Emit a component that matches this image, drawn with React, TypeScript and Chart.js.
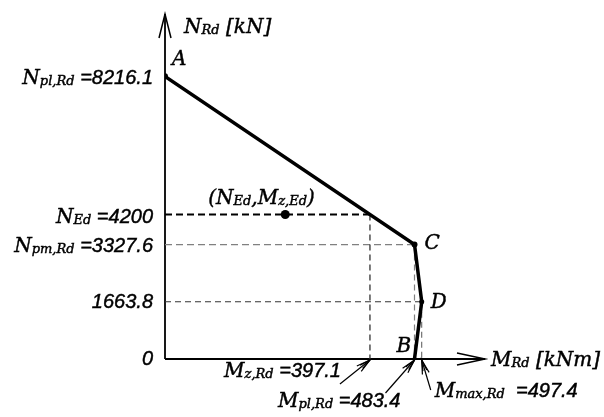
import React, { useEffect, useRef } from "react";
import { Chart, registerables } from "chart.js";

Chart.register(...registerables);

// ---- data ----
const envelopeM = [0, 483.4, 497.4, 483.4];
const envelopeN = [8216.1, 3327.6, 1663.8, 0];
const envelopeLabels = ["A", "C", "D", "B"];
const envelopeDot = [3, 3, 2.5, 0];
const N_Ed = 4200;
const M_Ed = 233;
const M_zRd = 397.1;
const M_plRd = 483.4;
const M_maxRd = 497.4;
const N_pmRd = 3327.6;
const N_half = 1663.8;
const N_plRd = 8216.1;
const M_AXIS_MAX = 620;
const N_AXIS_MAX = 10000;

type Seg = [string, "L" | "s" | "n"];

const FONTS: Record<string, string> = {
  L: 'italic 20px "DejaVu Serif"',
  s: 'italic 13px "DejaVu Serif"',
  n: 'italic 20px "Liberation Sans"',
};

function measureRich(ctx: CanvasRenderingContext2D, segs: Seg[]) {
  let w = 0;
  for (const [t, k] of segs) {
    ctx.font = FONTS[k];
    w += ctx.measureText(t).width;
  }
  return w;
}

function drawRich(
  ctx: CanvasRenderingContext2D,
  segs: Seg[],
  x: number,
  y: number,
  align: "left" | "right" = "left"
) {
  ctx.save();
  ctx.textBaseline = "alphabetic";
  ctx.textAlign = "left";
  ctx.fillStyle = "#000";
  ctx.strokeStyle = "#000";
  ctx.lineWidth = 0.45;
  let cx = align === "right" ? x - measureRich(ctx, segs) : x;
  for (const [t, k] of segs) {
    ctx.font = FONTS[k];
    const yy = k === "s" ? y + 1 : y;
    ctx.fillText(t, cx, yy);
    ctx.strokeText(t, cx, yy);
    cx += ctx.measureText(t).width;
  }
  ctx.restore();
}

function openArrow(
  ctx: CanvasRenderingContext2D,
  tx: number,
  ty: number,
  fx: number,
  fy: number,
  len: number,
  half: number
) {
  const ang = Math.atan2(fy - ty, fx - tx);
  const cos = Math.cos(ang), sin = Math.sin(ang);
  ctx.beginPath();
  ctx.moveTo(tx + cos * len - sin * half, ty + sin * len + cos * half);
  ctx.lineTo(tx, ty);
  ctx.lineTo(tx + cos * len + sin * half, ty + sin * len - cos * half);
  ctx.stroke();
}

const annotPlugin = {
  id: "annot",
  beforeDatasetsDraw(chart: any) {
    const ctx: CanvasRenderingContext2D = chart.ctx;
    const xs = chart.scales.x, ys = chart.scales.y;
    const x0 = xs.getPixelForValue(0);
    const y0 = ys.getPixelForValue(0);
    const yTop = ys.getPixelForValue(N_AXIS_MAX) - 1;
    const xEnd = xs.getPixelForValue(M_AXIS_MAX);
    ctx.save();
    ctx.strokeStyle = "#000";
    ctx.lineWidth = 1.8;
    ctx.beginPath();
    ctx.moveTo(x0, y0);
    ctx.lineTo(x0, yTop);
    ctx.moveTo(x0, y0);
    ctx.lineTo(xEnd, y0);
    ctx.stroke();
    ctx.lineWidth = 1.5;
    openArrow(ctx, x0, yTop, x0, yTop + 10, 24, 6);
    openArrow(ctx, xEnd, y0, xEnd - 10, y0, 28, 6);
    ctx.restore();
  },
  afterDatasetsDraw(chart: any) {
    const ctx: CanvasRenderingContext2D = chart.ctx;
    const xs = chart.scales.x, ys = chart.scales.y;
    const x0 = xs.getPixelForValue(0);
    const y0 = ys.getPixelForValue(0);
    const lx = x0 - 12;
    // y labels
    drawRich(ctx, [["N", "L"], ["pl,Rd", "s"], [" =8216.1", "n"]], lx, ys.getPixelForValue(N_plRd) + 8, "right");
    drawRich(ctx, [["N", "L"], ["Ed", "s"], [" =4200", "n"]], lx, ys.getPixelForValue(N_Ed) + 8, "right");
    drawRich(ctx, [["N", "L"], ["pm,Rd", "s"], [" =3327.6", "n"]], lx, ys.getPixelForValue(N_pmRd) + 7, "right");
    drawRich(ctx, [["1663.8", "n"]], lx, ys.getPixelForValue(N_half) + 6, "right");
    drawRich(ctx, [["0", "n"]], lx, y0 + 6, "right");
    // axis titles
    drawRich(ctx, [["N", "L"], ["Rd", "s"], [" [kN]", "L"]], x0 + 19, ys.getPixelForValue(N_AXIS_MAX) + 18);
    drawRich(ctx, [["M", "L"], ["Rd", "s"], [" [kNm]", "L"]], xs.getPixelForValue(M_AXIS_MAX) + 6, y0 + 7);
    // point labels
    const offs = [[7, -11], [10, 4], [9, 6], [-18, -7]];
    envelopeLabels.forEach((lab, i) => {
      const px = xs.getPixelForValue(envelopeM[i]);
      const py = ys.getPixelForValue(envelopeN[i]);
      drawRich(ctx, [[lab, "L"]], px + offs[i][0], py + offs[i][1]);
    });
    // design point label
    const ex = xs.getPixelForValue(M_Ed), ey = ys.getPixelForValue(N_Ed);
    drawRich(ctx, [["(N", "L"], ["Ed", "s"], [",M", "L"], ["z,Ed", "s"], [")", "L"]], ex - 77, ey - 11);
    // bottom labels with leaders
    const leaders: [number, number, number, Seg[], number, number, "left" | "right"][] = [
      [M_zRd, -30, 24, [["M", "L"], ["z,Rd", "s"], [" =397.1", "n"]], -29, 18, "right"],
      [M_plRd, -29, 33, [["M", "L"], ["pl,Rd", "s"], [" =483.4", "n"]], -14, 48, "right"],
      [M_maxRd, 9, 30, [["M", "L"], ["max,Rd", "s"], ["  =497.4", "n"]], 13, 38, "left"],
    ];
    ctx.save();
    ctx.strokeStyle = "#000";
    ctx.lineWidth = 1.2;
    for (const [m, dx, dy, segs, tx, ty, al] of leaders) {
      const px = xs.getPixelForValue(m);
      const tipY = y0 + 1;
      ctx.beginPath();
      ctx.moveTo(px, tipY);
      ctx.lineTo(px + dx, tipY + dy);
      ctx.stroke();
      openArrow(ctx, px, tipY, px + dx, tipY + dy, 14, 3.5);
      openArrow(ctx, px, tipY, px + dx, tipY + dy, 11, 2);
      drawRich(ctx, segs, px + tx, y0 + ty, al);
    }
    ctx.restore();
  },
};

const pts = (ms: number[], ns: number[]) => ms.map((m, i) => ({ x: m, y: ns[i] }));

export default function App() {
  const ref = useRef<HTMLCanvasElement | null>(null);
  useEffect(() => {
    if (!ref.current) return;
    const dashed = (ms: number[], ns: number[], color: string, w: number, dash: number[]) => ({
      data: pts(ms, ns),
      showLine: true,
      borderColor: color,
      borderWidth: w,
      borderDash: dash,
      pointRadius: 0,
      order: 2,
    });
    const chart = new Chart(ref.current, {
      type: "scatter",
      data: {
        datasets: [
          {
            data: pts(envelopeM, envelopeN),
            showLine: true,
            borderColor: "#000",
            borderWidth: 3.5,
            pointRadius: envelopeDot,
            pointBackgroundColor: "#000",
            pointBorderWidth: 0,
            order: 0,
          } as any,
          { data: [{ x: M_Ed, y: N_Ed }], pointRadius: 4.5, pointBackgroundColor: "#000", pointBorderWidth: 0, order: 0 } as any,
          dashed([0, M_zRd], [N_Ed, N_Ed], "#000", 1.8, [7, 4]),
          dashed([M_zRd, M_zRd], [N_Ed, 0], "#333", 1.3, [6, 4]),
          dashed([0, M_plRd], [N_pmRd, N_pmRd], "#808080", 1.3, [7, 4]),
          dashed([M_plRd, M_plRd], [N_pmRd, 0], "#808080", 1.2, [6, 4]),
          dashed([0, M_maxRd], [N_half, N_half], "#333", 1, [6, 4]),
          dashed([M_maxRd, M_maxRd], [N_half, 0], "#555", 1, [6, 4]),
        ],
      },
      options: {
        responsive: false,
        animation: false,
        layout: { padding: { left: 165, right: 119, top: 15, bottom: 58 } },
        scales: {
          x: { type: "linear", min: 0, max: M_AXIS_MAX, display: false },
          y: { type: "linear", min: 0, max: N_AXIS_MAX, display: false },
        },
        plugins: { legend: { display: false }, tooltip: { enabled: false } },
      },
      plugins: [annotPlugin],
    });
    return () => chart.destroy();
  }, []);
  return (
    <div style={{ position: "absolute", left: 0, top: 0, width: 604, height: 417, background: "#fff" }}>
      <canvas ref={ref} width={604} height={417} />
    </div>
  );
}
